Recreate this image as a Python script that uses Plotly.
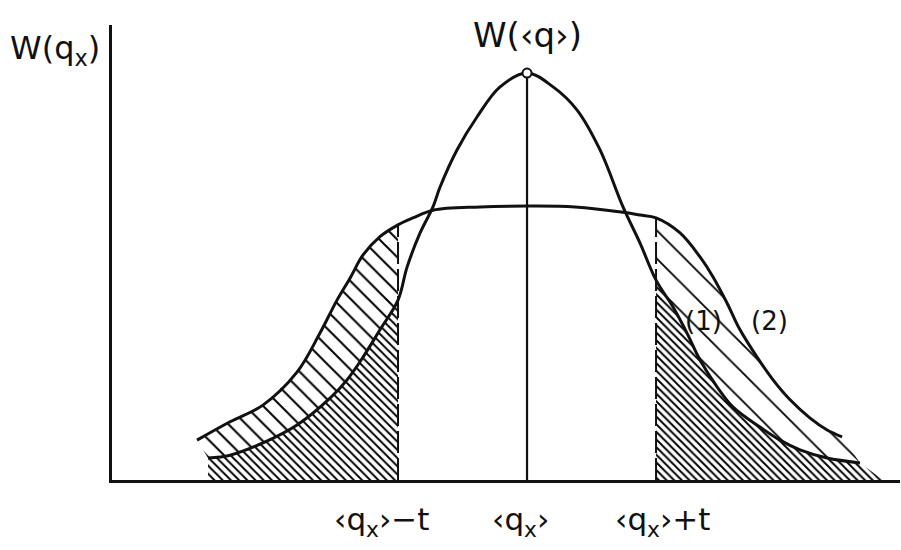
import plotly.graph_objects as go

# Positions along q_x are measured from <q_x> in units of t; heights in units of W(<q>).
T = 1.0

# Curve (1): narrow distribution peaking at W(<q>)
c1_x = [-2.473, -2.302, -2.047, -1.783, -1.527, -1.395, -1.271, -1.140, -1.0,
        -0.930, -0.829, -0.729, -0.674, -0.543, -0.388, -0.209, 0.0, 0.202,
        0.388, 0.566, 0.744, 0.876, 1.0, 1.132, 1.240, 1.341, 1.473, 1.597,
        1.806, 1.961, 2.116, 2.326, 2.581]
c1_y = [0.054, 0.061, 0.091, 0.135, 0.201, 0.246, 0.302, 0.369, 0.442,
        0.523, 0.607, 0.671, 0.720, 0.811, 0.892, 0.966, 1.0, 0.966,
        0.909, 0.811, 0.671, 0.582, 0.491, 0.425, 0.361, 0.295, 0.229, 0.179,
        0.130, 0.098, 0.074, 0.054, 0.042]

# Curve (2): broad, flat-topped distribution
c2_x = [-2.558, -2.302, -2.047, -1.783, -1.605, -1.473, -1.372, -1.271, -1.140,
        -1.0, -0.884, -0.729, -0.364, 0.0, 0.372, 0.744, 0.876, 1.0, 1.186,
        1.341, 1.442, 1.550, 1.651, 1.783, 1.907, 2.039, 2.194, 2.326, 2.442]
c2_y = [0.098, 0.143, 0.184, 0.265, 0.361, 0.442, 0.496, 0.553, 0.598,
        0.627, 0.644, 0.663, 0.671, 0.673, 0.671, 0.658, 0.651, 0.644, 0.607,
        0.548, 0.499, 0.435, 0.369, 0.302, 0.246, 0.197, 0.152, 0.123, 0.106]

# Where the right-hand tail hatching meets the q_x axis
HATCH_TAIL_X = 2.76

label_x = [-1.13, -0.054, 1.047]
tick_text = ["‹q<sub>x</sub>›−t", "‹q<sub>x</sub>›", "‹q<sub>x</sub>›+t"]

INK = "#111111"
FONT = "DejaVu Sans"

iL1, iR1 = c1_x.index(-T), c1_x.index(T)
iL2, iR2 = c2_x.index(-T), c2_x.index(T)

fig = go.Figure()


def hatch(xs, ys, size, solidity):
    fig.add_trace(go.Scatter(
        x=xs, y=ys, mode="lines", fill="toself",
        line=dict(width=0, color="rgba(0,0,0,0)"),
        fillcolor="rgba(0,0,0,0)",
        fillpattern=dict(shape="\\", size=size, solidity=solidity,
                         fgcolor="#000000", fgopacity=1,
                         bgcolor="rgba(0,0,0,0)"),
        hoverinfo="skip", showlegend=False))


# Dense hatching: tails of curve (1) outside <q_x> ± t
hatch(c1_x[:iL1 + 1] + [-T, c1_x[0]],
      c1_y[:iL1 + 1] + [0, 0], 5.8, 0.33)
hatch([T] + c1_x[iR1:] + [HATCH_TAIL_X],
      [0] + c1_y[iR1:] + [0], 5.4, 0.35)

# Sparse hatching: extra tail area of curve (2)
hatch(c2_x[:iL2 + 1] + c1_x[iL1::-1],
      c2_y[:iL2 + 1] + c1_y[iL1::-1], 12.5, 0.16)
hatch(c2_x[iR2:] + c1_x[:iR1 - 1:-1],
      c2_y[iR2:] + c1_y[:iR1 - 1:-1], 20, 0.09)

# Dashed cut lines at <q_x> - t and <q_x> + t
for xi, top in ((-T, c2_y[iL2]), (T, c2_y[iR2])):
    fig.add_trace(go.Scatter(
        x=[xi, xi], y=[0, top], mode="lines",
        line=dict(color=INK, width=2, dash="22px,5px"),
        hoverinfo="skip", showlegend=False))

# Vertical line at <q_x>
fig.add_trace(go.Scatter(
    x=[0, 0], y=[0, max(c1_y)], mode="lines",
    line=dict(color=INK, width=2.2), hoverinfo="skip", showlegend=False))

# The two distributions
for xs, ys in ((c2_x, c2_y), (c1_x, c1_y)):
    fig.add_trace(go.Scatter(
        x=xs, y=ys, mode="lines",
        line=dict(color=INK, width=3, shape="spline", smoothing=1.0),
        hoverinfo="skip", showlegend=False))

# Peak marker W(<q>)
fig.add_trace(go.Scatter(
    x=[0], y=[max(c1_y)], mode="markers",
    marker=dict(symbol="circle", size=9, color="white",
                line=dict(color=INK, width=2)),
    hoverinfo="skip", showlegend=False, cliponaxis=False))

annotations = [
    dict(x=-0.0723, y=0.945, xref="paper", yref="paper",
         text="W(q<sub>x</sub>)", size=32),
    dict(x=0.0, y=1.093, xref="x", yref="y", text="W(‹q›)", size=34),
    dict(x=1.37, y=0.39, xref="x", yref="y", text="(1)", size=26),
    dict(x=1.88, y=0.39, xref="x", yref="y", text="(2)", size=26),
]
for xv, tt in zip(label_x, tick_text):
    annotations.append(dict(x=xv, y=-0.092, xref="x", yref="paper",
                            text=tt, size=31))
for a in annotations:
    size = a.pop("size")
    a.update(showarrow=False, xanchor="center", yanchor="middle",
             font=dict(family=FONT, color=INK, size=size))

fig.update_layout(
    width=901, height=550,
    margin=dict(l=112, r=1, t=25, b=70),
    paper_bgcolor="white", plot_bgcolor="white",
    annotations=annotations,
    xaxis=dict(range=[-3.217, 2.891], showline=True, linewidth=3, linecolor=INK,
               showgrid=False, zeroline=False, showticklabels=False, ticks=""),
    yaxis=dict(range=[0, 1.118], showline=True, linewidth=3, linecolor=INK,
               showgrid=False, zeroline=False, showticklabels=False, ticks=""),
)

fig.write_html("out.html")
